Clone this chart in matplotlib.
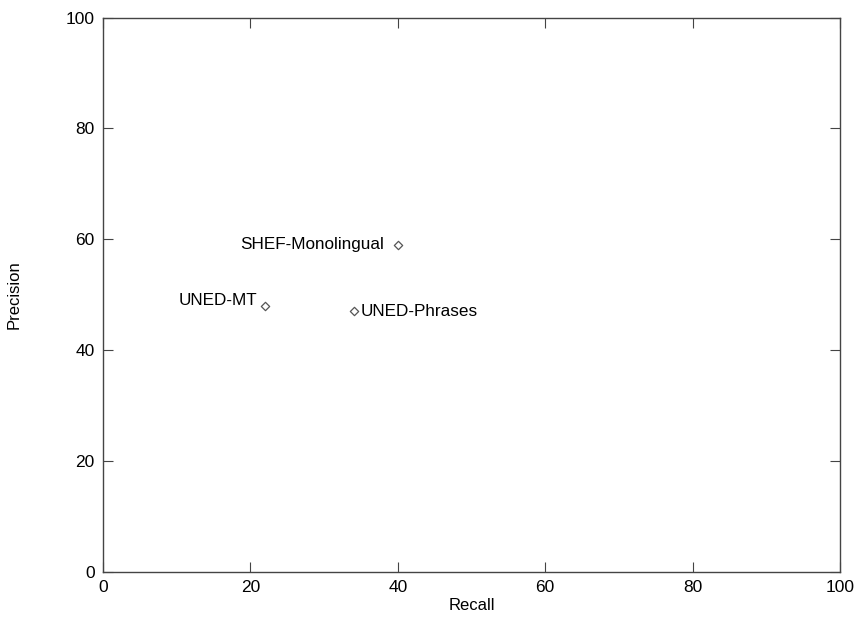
import matplotlib
matplotlib.use("Agg")
import matplotlib.pyplot as plt

plt.rcParams['font.family'] = ['Liberation Sans', 'DejaVu Sans']

# system scores
names = ["SHEF-Monolingual", "UNED-MT", "UNED-Phrases"]
recall = [40, 22, 34]
precision = [59, 48, 47]

fig = plt.figure(figsize=(8.57, 6.17), dpi=100)
ax = fig.add_axes([103 / 857, 1 - 572 / 617, 737 / 857, 554.5 / 617])

ax.scatter(recall, precision, marker='D', s=18, facecolors='white',
           edgecolors='#555555', linewidths=0.9, zorder=3)

# label placement (gnuplot-like offsets)
offsets = {
    "SHEF-Monolingual": (-10, 0, 'right', 'center'),
    "UNED-MT": (-6, 4, 'right', 'center'),
    "UNED-Phrases": (5, 0, 'left', 'center'),
}
for n, x, y in zip(names, recall, precision):
    dx, dy, ha, va = offsets[n]
    ax.annotate(n, (x, y), xytext=(dx, dy), textcoords='offset points',
                ha=ha, va=va, fontsize=12.3)

ax.set_xlim(0, 100)
ax.set_ylim(0, 100)
ax.set_xticks([0, 20, 40, 60, 80, 100])
ax.set_yticks([0, 20, 40, 60, 80, 100])
ax.tick_params(direction='in', top=True, right=True, length=7,
               labelsize=12.5, color='#444444', pad=6)
for s in ax.spines.values():
    s.set_color('#444444')
    s.set_linewidth(1.0)

xl = ax.set_xlabel("Recall", fontsize=12, va='center')
ax.xaxis.set_label_coords(0.5, -(606 - 572) / 554.5)
yl = ax.set_ylabel("Precision", fontsize=12, va='center')
ax.yaxis.set_label_coords(-(103 - 14) / 737, 0.5)

fig.savefig("out.png", dpi=100)
